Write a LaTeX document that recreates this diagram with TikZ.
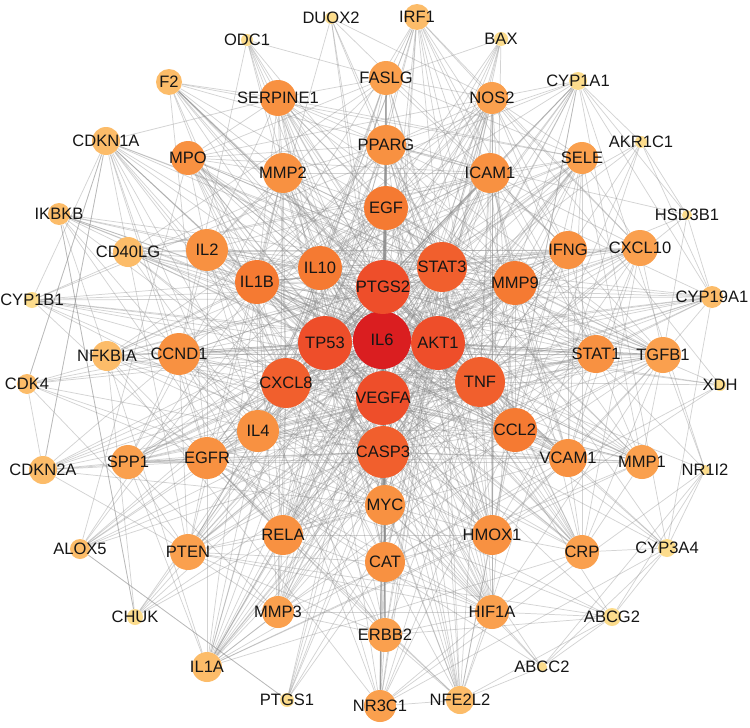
\documentclass[tikz,border=0pt]{standalone}
\usepackage{fontspec}
\setmainfont{Liberation Sans}
\usepackage{tikz}
\usetikzlibrary{backgrounds}

\definecolor{cA}{RGB}{218,30,32}
\definecolor{cB}{RGB}{238,78,42}
\definecolor{cC}{RGB}{241,95,45}
\definecolor{cD}{RGB}{245,122,50}
\definecolor{cE}{RGB}{248,145,65}
\definecolor{cF}{RGB}{250,160,78}
\definecolor{cG}{RGB}{252,188,105}
\definecolor{cH}{RGB}{252,220,140}
\definecolor{edgegray}{RGB}{140,140,140}

\newcommand\hubset{IL6,PTGS2,TP53,AKT1,VEGFA,CASP3,STAT3,CXCL8,TNF}
\newcommand\midset{EGF,IL10,IL1B,MMP9,CCL2,IL4,EGFR,MYC,CAT,RELA,HMOX1,VCAM1,STAT1,IFNG,ICAM1,PPARG,MMP2,IL2,CCND1,SERPINE1,MPO,SPP1,PTEN,MMP3,ERBB2,HIF1A,CRP,MMP1,TGFB1,CXCL10,SELE,NOS2,FASLG,NR3C1}

\begin{document}
\begin{tikzpicture}[x=0.75pt,y=0.75pt,yscale=-1,xscale=1,
  gene/.style={circle,inner sep=0pt,draw=none,fill=#1},
  dia/.style={minimum size=#1*0.75pt},
  edge/.style={draw=edgegray,line width=0.55pt,opacity=0.38},
  every label/.append style={font=\fontsize{12.4}{14}\selectfont,inner sep=0pt,text={rgb,255:red,22;green,22;blue,22}}]
%set diagram size 750 x 728
\useasboundingbox (0,0) rectangle (750,728);

% hub nodes
\node[gene=cA,dia=58,label=center:IL6] (IL6) at (382,340) {};
\node[gene=cB,dia=54,label=center:PTGS2] (PTGS2) at (383,287) {};
\node[gene=cB,dia=54,label=center:TP53] (TP53) at (325,343) {};
\node[gene=cB,dia=54,label=center:AKT1] (AKT1) at (438,343) {};
\node[gene=cB,dia=54,label=center:VEGFA] (VEGFA) at (383,398) {};
\node[gene=cC,dia=52,label=center:CASP3] (CASP3) at (383,452) {};
\node[gene=cC,dia=50,label=center:STAT3] (STAT3) at (442,267) {};
\node[gene=cC,dia=50,label=center:CXCL8] (CXCL8) at (286,383) {};
\node[gene=cC,dia=50,label=center:TNF] (TNF) at (480,382) {};

% middle nodes
\node[gene=cD,dia=44,label=center:EGF] (EGF) at (386,208) {};
\node[gene=cD,dia=44,label=center:IL10] (IL10) at (320,268) {};
\node[gene=cD,dia=44,label=center:IL1B] (IL1B) at (257,282) {};
\node[gene=cD,dia=44,label=center:MMP9] (MMP9) at (515,283) {};
\node[gene=cD,dia=44,label=center:CCL2] (CCL2) at (515,430) {};
\node[gene=cE,dia=42,label=center:IL4] (IL4) at (258,431) {};
\node[gene=cE,dia=42,label=center:EGFR] (EGFR) at (207,458) {};
\node[gene=cE,dia=40,label=center:MYC] (MYC) at (385,505) {};
\node[gene=cE,dia=40,label=center:CAT] (CAT) at (385,562) {};
\node[gene=cE,dia=40,label=center:RELA] (RELA) at (283,535) {};
\node[gene=cE,dia=40,label=center:HMOX1] (HMOX1) at (492,535) {};
\node[gene=cE,dia=38,label=center:VCAM1] (VCAM1) at (568,458) {};
\node[gene=cE,dia=38,label=center:STAT1] (STAT1) at (596,354) {};
\node[gene=cE,dia=38,label=center:IFNG] (IFNG) at (568,250) {};
\node[gene=cE,dia=40,label=center:ICAM1] (ICAM1) at (490,173) {};
\node[gene=cE,dia=40,label=center:PPARG] (PPARG) at (386,145) {};
\node[gene=cE,dia=40,label=center:MMP2] (MMP2) at (283,173) {};
\node[gene=cE,dia=42,label=center:IL2] (IL2) at (207,250) {};
\node[gene=cE,dia=42,label=center:CCND1] (CCND1) at (179,354) {};
\node[gene=cE,dia=36,label=center:SERPINE1] (SERPINE1) at (278,98) {};
\node[gene=cE,dia=34,label=center:MPO] (MPO) at (188,158) {};
\node[gene=cF,dia=34,label=center:SPP1] (SPP1) at (128,462) {};
\node[gene=cF,dia=36,label=center:PTEN] (PTEN) at (188,552) {};
\node[gene=cF,dia=32,label=center:MMP3] (MMP3) at (278,612) {};
\node[gene=cF,dia=34,label=center:ERBB2] (ERBB2) at (385,635) {};
\node[gene=cF,dia=34,label=center:HIF1A] (HIF1A) at (492,612) {};
\node[gene=cF,dia=34,label=center:CRP] (CRP) at (582,552) {};
\node[gene=cF,dia=34,label=center:MMP1] (MMP1) at (642,462) {};
\node[gene=cF,dia=36,label=center:TGFB1] (TGFB1) at (663,355) {};
\node[gene=cF,dia=36,label=center:CXCL10] (CXCL10) at (640,248) {};
\node[gene=cF,dia=32,label=center:SELE] (SELE) at (582,158) {};
\node[gene=cF,dia=32,label=center:NOS2] (NOS2) at (492,98) {};
\node[gene=cF,dia=34,label=center:FASLG] (FASLG) at (386,78) {};
\node[gene=cF,dia=32,label=center:NR3C1] (NR3C1) at (380,706) {};

% outer nodes
\node[gene=cG,dia=26,label=center:IRF1] (IRF1) at (417,17) {};
\node[gene=cG,dia=26,label=center:F2] (F2) at (169,82) {};
\node[gene=cG,dia=28,label=center:CDKN1A] (CDKN1A) at (106,141) {};
\node[gene=cG,dia=22,label=center:IKBKB] (IKBKB) at (59,214) {};
\node[gene=cG,dia=30,label=center:CD40LG] (CD40LG) at (128,252) {};
\node[gene=cG,dia=30,label=center:NFKBIA] (NFKBIA) at (107,356) {};
\node[gene=cG,dia=20,label=center:CDK4] (CDK4) at (27,384) {};
\node[gene=cG,dia=28,label=center:CDKN2A] (CDKN2A) at (43,470) {};
\node[gene=cG,dia=20,label=center:ALOX5] (ALOX5) at (80,549) {};
\node[gene=cG,dia=30,label=center:IL1A] (IL1A) at (207,667) {};
\node[gene=cG,dia=28,label=center:NFE2L2] (NFE2L2) at (460,700) {};
\node[gene=cG,dia=22,label=center:CYP19A1] (CYP19A1) at (712,297) {};
\node[gene=cH,dia=16,label=center:CHUK] (CHUK) at (135,617) {};
\node[gene=cH,dia=12,label=center:DUOX2] (DUOX2) at (331,18) {};
\node[gene=cH,dia=12,label=center:ODC1] (ODC1) at (247,40) {};
\node[gene=cH,dia=14,label=center:BAX] (BAX) at (501,39) {};
\node[gene=cH,dia=18,label=center:CYP1A1] (CYP1A1) at (578,81) {};
\node[gene=cH,dia=12,label=center:AKR1C1] (AKR1C1) at (641,142) {};
\node[gene=cH,dia=10,label=center:HSD3B1] (HSD3B1) at (687,215) {};
\node[gene=cH,dia=16,label=center:CYP1B1] (CYP1B1) at (32,300) {};
\node[gene=cH,dia=12,label=center:XDH] (XDH) at (720,385) {};
\node[gene=cH,dia=10,label=center:NR1I2] (NR1I2) at (705,470) {};
\node[gene=cH,dia=18,label=center:CYP3A4] (CYP3A4) at (667,548) {};
\node[gene=cH,dia=18,label=center:ABCG2] (ABCG2) at (612,617) {};
\node[gene=cH,dia=10,label=center:ABCC2] (ABCC2) at (542,667) {};
\node[gene=cH,dia=14,label=center:PTGS1] (PTGS1) at (287,700) {};

\begin{scope}[on background layer]
\fill[white] (0,0) rectangle (750,728);
% hubs with hubs and middle nodes
\foreach \a [count=\i] in \hubset {
  \foreach \b [count=\j] in \hubset {
    \ifnum\j>\i \draw[edge] (\a) -- (\b); \fi
  }
  \foreach \b in \midset { \draw[edge] (\a) -- (\b); }
}
% middle nodes
\foreach \t in {IL10,IL1B,MMP9,CCL2,EGFR,MYC,PPARG,FASLG,ICAM1,MMP2,STAT1,HIF1A,ERBB2,PTEN,CCND1,SERPINE1,NOS2,CAT,RELA,HMOX1,TGFB1,SPP1,MMP1,MMP3} \draw[edge] (EGF) -- (\t);
\foreach \t in {IL1B,IL4,IL2,IFNG,CCL2,ICAM1,VCAM1,MPO,CRP,NOS2,HMOX1,STAT1,FASLG,SELE,CXCL10,MMP9,TGFB1,RELA,CAT} \draw[edge] (IL10) -- (\t);
\foreach \t in {MMP9,CCL2,IL4,IL2,IFNG,ICAM1,VCAM1,MMP3,MMP1,MMP2,NOS2,SELE,CRP,RELA,HMOX1,PPARG,MPO,SERPINE1,CXCL10,TGFB1,HIF1A} \draw[edge] (IL1B) -- (\t);
\foreach \t in {CCL2,MMP2,MMP3,MMP1,EGFR,ICAM1,VCAM1,TGFB1,SERPINE1,SPP1,CCND1,HIF1A,PTEN,RELA,STAT1,MPO,SELE} \draw[edge] (MMP9) -- (\t);
\foreach \t in {IL4,ICAM1,VCAM1,IFNG,CXCL10,SELE,HMOX1,CRP,STAT1,MMP1,NOS2,IL2,RELA,TGFB1,SPP1,MPO} \draw[edge] (CCL2) -- (\t);
\foreach \t in {IL2,IFNG,STAT1,CCND1,EGFR,FASLG,PPARG,VCAM1,ICAM1,MYC} \draw[edge] (IL4) -- (\t);
\foreach \t in {MYC,CCND1,PTEN,ERBB2,HIF1A,STAT1,SPP1,TGFB1,MMP2,RELA,CAT} \draw[edge] (EGFR) -- (\t);
\foreach \t in {CCND1,PTEN,ERBB2,HIF1A,CAT,RELA,STAT1,TGFB1,NR3C1,HMOX1} \draw[edge] (MYC) -- (\t);
\foreach \t in {HMOX1,HIF1A,NOS2,PPARG,MPO,NR3C1,PTEN,SERPINE1} \draw[edge] (CAT) -- (\t);
\foreach \t in {HMOX1,HIF1A,MMP3,ICAM1,VCAM1,NOS2,CCND1,SELE,STAT1,PTEN} \draw[edge] (RELA) -- (\t);
\foreach \t in {HIF1A,NOS2,PPARG,VCAM1,ICAM1,CRP,STAT1,MPO,TGFB1} \draw[edge] (HMOX1) -- (\t);
\foreach \t in {ICAM1,SELE,CRP,STAT1,IFNG,MMP1,CXCL10,TGFB1,SPP1} \draw[edge] (VCAM1) -- (\t);
\foreach \t in {IFNG,CXCL10,ICAM1,TGFB1,NOS2,CCND1,MMP1} \draw[edge] (STAT1) -- (\t);
\foreach \t in {ICAM1,CXCL10,NOS2,IL2,FASLG,TGFB1,SELE} \draw[edge] (IFNG) -- (\t);
\foreach \t in {SELE,PPARG,NOS2,MMP2,IL2,CRP,CXCL10,MPO,SERPINE1} \draw[edge] (ICAM1) -- (\t);
\foreach \t in {MMP2,SERPINE1,NOS2,FASLG,CCND1,MPO,CRP,TGFB1} \draw[edge] (PPARG) -- (\t);
\foreach \t in {SERPINE1,MMP3,MMP1,MPO,IL2,TGFB1,SPP1,PTEN,HIF1A} \draw[edge] (MMP2) -- (\t);
\foreach \t in {FASLG,MPO,CCND1,SERPINE1} \draw[edge] (IL2) -- (\t);
\foreach \t in {SPP1,PTEN,ERBB2,HIF1A,TGFB1} \draw[edge] (CCND1) -- (\t);
\foreach \t in {PTEN,MMP3,TGFB1,MMP1} \draw[edge] (SPP1) -- (\t);
\foreach \t in {MMP3,ERBB2,HIF1A} \draw[edge] (PTEN) -- (\t);
\foreach \t in {ERBB2,HIF1A,MMP1,TGFB1} \draw[edge] (MMP3) -- (\t);
\foreach \t in {HIF1A,NR3C1} \draw[edge] (ERBB2) -- (\t);
\foreach \t in {CRP,NOS2,TGFB1,NR3C1} \draw[edge] (HIF1A) -- (\t);
\foreach \t in {SELE,MMP1,TGFB1,CXCL10} \draw[edge] (CRP) -- (\t);
\foreach \t in {TGFB1,SELE} \draw[edge] (MMP1) -- (\t);
\foreach \t in {CXCL10,SERPINE1} \draw[edge] (TGFB1) -- (\t);
\foreach \t in {SELE,NOS2} \draw[edge] (CXCL10) -- (\t);
\foreach \t in {NOS2,FASLG,SERPINE1} \draw[edge] (SELE) -- (\t);
\foreach \t in {FASLG,MPO} \draw[edge] (NOS2) -- (\t);
\foreach \t in {SERPINE1,MPO} \draw[edge] (FASLG) -- (\t);
\draw[edge] (SERPINE1) -- (MPO);
% outer nodes
\foreach \t in {IL6,TNF,STAT3,STAT1,IFNG,IL10,IL1B,FASLG,NOS2,ICAM1,CXCL10,CASP3,TP53,MYC,CCL2,IL4,VCAM1,RELA} \draw[edge] (IRF1) -- (\t);
\foreach \t in {IL6,TNF,IL1B,NOS2,VEGFA,STAT3,IFNG} \draw[edge] (DUOX2) -- (\t);
\foreach \t in {TP53,AKT1,CASP3,IL6,FASLG,PTGS2,MYC,HMOX1,EGFR} \draw[edge] (BAX) -- (\t);
\foreach \t in {MYC,IL6,TP53,AKT1,PTGS2,VEGFA,CCND1,EGF,FASLG} \draw[edge] (ODC1) -- (\t);
\foreach \t in {IL6,TNF,VEGFA,SERPINE1,MMP2,MMP9,CCL2,IL1B,ICAM1,VCAM1,SELE,CXCL8,CRP,EGFR,AKT1,PTGS2} \draw[edge] (F2) -- (\t);
\foreach \t in {TP53,AKT1,MYC,CCND1,CASP3,IL6,PTEN,EGFR,TGFB1,STAT3,VEGFA,HIF1A,STAT1,RELA,CDK4,CDKN2A,SERPINE1,IL1B,ERBB2} \draw[edge] (CDKN1A) -- (\t);
\foreach \t in {IL6,TNF,AKT1,RELA,NFKBIA,CHUK,IL1B,CXCL8,TP53,PTGS2,STAT3,IL10,CCND1} \draw[edge] (IKBKB) -- (\t);
\foreach \t in {IL6,TNF,IL10,IL2,IL4,IFNG,IL1B,CCL2,ICAM1,VCAM1,STAT1,CXCL8,CASP3,FASLG,SELE,AKT1} \draw[edge] (CD40LG) -- (\t);
\foreach \t in {TP53,IL6,TNF,AKT1,PTGS2,VEGFA,CASP3,CYP1A1,CYP19A1,HMOX1,PPARG,NFE2L2,STAT3,CDKN1A} \draw[edge] (CYP1B1) -- (\t);
\foreach \t in {TP53,CCND1,MYC,CDKN1A,CDKN2A,AKT1,EGFR,STAT3,PTEN,CASP3} \draw[edge] (CDK4) -- (\t);
\foreach \t in {IL6,TNF,RELA,AKT1,CHUK,CXCL8,IL1B,PTGS2,TP53,CASP3,STAT3,CCL2,ICAM1,VCAM1,NOS2,HMOX1,IL10} \draw[edge] (NFKBIA) -- (\t);
\foreach \t in {TP53,CCND1,MYC,CDKN1A,AKT1,PTEN,EGFR,IL6,CASP3,VEGFA,STAT3,SPP1} \draw[edge] (CDKN2A) -- (\t);
\foreach \t in {PTGS2,IL6,TNF,CXCL8,PPARG,PTGS1,IL1B,MPO,CASP3,VEGFA,IL4} \draw[edge] (ALOX5) -- (\t);
\foreach \t in {IKBKB,RELA,AKT1,TNF,IL6,TP53,PTGS2} \draw[edge] (CHUK) -- (\t);
\foreach \t in {IL6,TNF,IL1B,IL10,IL4,CXCL8,CCL2,IL2,IFNG,PTGS2,VEGFA,MMP3,MMP1,MMP9,ICAM1,VCAM1,SELE,CRP,STAT3,TP53,CASP3,RELA,HMOX1,NFKBIA,SPP1} \draw[edge] (IL1A) -- (\t);
\foreach \t in {PTGS2,IL6,TNF,ALOX5,CASP3,VEGFA,CAT,AKT1} \draw[edge] (PTGS1) -- (\t);
\foreach \t in {NFKBIA,PPARG,IL2,IFNG,CCL2} \draw[edge] (NR3C1) -- (\t);
\foreach \t in {HMOX1,CAT,TP53,AKT1,IL6,TNF,PTGS2,VEGFA,CASP3,MYC,HIF1A,STAT3,ERBB2,PPARG,EGFR,NR3C1,ABCG2,ABCC2} \draw[edge] (NFE2L2) -- (\t);
\foreach \t in {ABCG2,NR1I2,CYP3A4,MYC,EGFR,HIF1A,TP53} \draw[edge] (ABCC2) -- (\t);
\foreach \t in {NR1I2,CYP3A4,AKT1,EGFR,HIF1A,MYC,TP53,PTEN,ERBB2} \draw[edge] (ABCG2) -- (\t);
\foreach \t in {NR1I2,IL6,TNF,PTGS2,VEGFA,CYP19A1,CRP,NR3C1,CYP1A1,PPARG} \draw[edge] (CYP3A4) -- (\t);
\foreach \t in {IL6,NR3C1,PPARG,CYP1A1,TGFB1} \draw[edge] (NR1I2) -- (\t);
\foreach \t in {HMOX1,NOS2,CAT,MPO,IL6,TNF,AKT1} \draw[edge] (XDH) -- (\t);
\foreach \t in {IL6,TNF,TP53,AKT1,PTGS2,VEGFA,CASP3,STAT3,CXCL8,MMP9,STAT1,TGFB1,PPARG,CYP1A1,EGFR} \draw[edge] (CYP19A1) -- (\t);
\foreach \t in {CYP19A1,CYP1A1,IL6,TNF,TGFB1,AKR1C1,PPARG} \draw[edge] (HSD3B1) -- (\t);
\foreach \t in {CYP1A1,CYP19A1,PTGS2,IL6,TNF,NFE2L2,CCL2} \draw[edge] (AKR1C1) -- (\t);
\foreach \t in {NOS2,IL6,TNF,AKT1,TP53,PTGS2,VEGFA,CASP3,STAT3,PPARG,HMOX1,IL1B,CXCL8,NFE2L2} \draw[edge] (CYP1A1) -- (\t);
\end{scope}

\end{tikzpicture}
\end{document}
